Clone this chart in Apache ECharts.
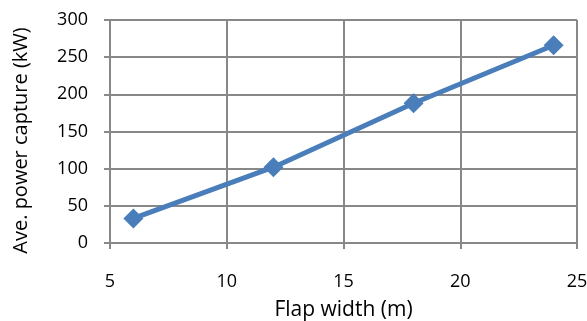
<!DOCTYPE html>
<html><head><meta charset="utf-8">
<script src="https://cdn.jsdelivr.net/npm/echarts@6/dist/echarts.min.js"></script>
<style>html,body{margin:0;padding:0;background:#fff}#c{width:587px;height:321px}</style>
</head><body><div id="c"></div>
<script>
const flapWidth = [6, 12, 18, 24];
const avePower = [33, 102, 188, 266];
const xTicks = [5, 10, 15, 20, 25];
const yTicks = [0, 50, 100, 150, 200, 250, 300];

const chart = echarts.init(document.getElementById('c'), null, {renderer: 'canvas'});
const font = '"Open Sans", Lato, sans-serif';
chart.setOption({
  animation: false,
  grid: {left: 110, right: 10, top: 20, bottom: 78, containLabel: false, outerBoundsMode: 'none'},
  xAxis: {
    type: 'value', min: xTicks[0], max: xTicks[xTicks.length-1], interval: 5,
    name: 'Flap width (m)', nameLocation: 'middle', nameGap: 57,
    nameTextStyle: {fontFamily: font, fontSize: 21, color: '#000'},
    axisLine: {show: true, lineStyle: {color: '#888', width: 2}},
    axisTick: {show: true, length: 6, lineStyle: {color: '#888', width: 2}},
    axisLabel: {fontFamily: font, fontSize: 18, color: '#000', margin: 30},
    splitLine: {show: true, lineStyle: {color: '#888', width: 2}}
  },
  yAxis: {
    type: 'value', min: yTicks[0], max: yTicks[yTicks.length-1], interval: 50,
    name: 'Ave. power capture (kW)', nameLocation: 'middle', nameGap: 79,
    nameTextStyle: {fontFamily: font, fontSize: 20, color: '#000', padding: [0, 18, 0, 0]},
    axisLine: {show: true, lineStyle: {color: '#888', width: 2}},
    axisTick: {show: true, length: 6, lineStyle: {color: '#888', width: 2}},
    axisLabel: {fontFamily: font, fontSize: 18, color: '#000', margin: 22},
    splitLine: {show: true, lineStyle: {color: '#888', width: 2}}
  },
  series: [{
    type: 'line',
    data: flapWidth.map((x, i) => [x, avePower[i]]),
    symbol: 'diamond', symbolSize: 20,
    lineStyle: {color: '#4a7ebb', width: 5},
    itemStyle: {color: '#4a7ebb'}
  }]
});
</script></body></html>
